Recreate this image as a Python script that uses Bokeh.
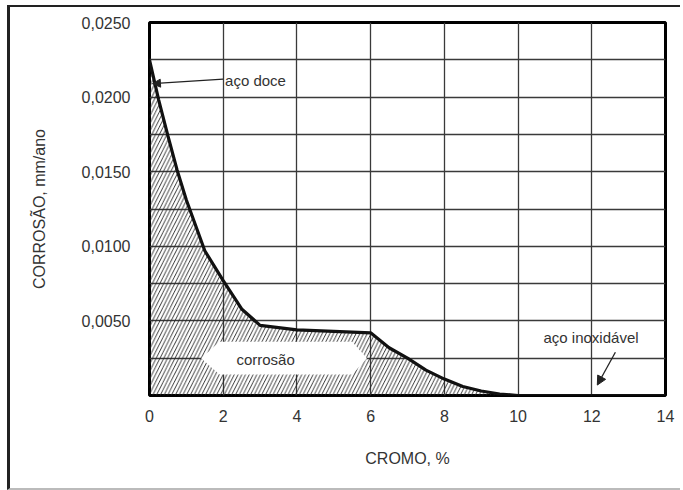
from bokeh.plotting import figure
from bokeh.models import FixedTicker, CustomJSTickFormatter, Arrow, NormalHead, Label
from bokeh.core.properties import value
from bokeh.embed import file_html
from bokeh.resources import INLINE

# data
cromo = [0, 0.25, 0.5, 0.75, 1.0, 1.5, 2.0, 2.5, 3.0, 4.0, 5.0, 6.0, 6.5, 7.0, 7.5, 8.0, 8.5, 9.0, 9.5, 10.0, 12.0, 14.0]
corrosao = [0.0225, 0.0198, 0.0174, 0.0151, 0.0131, 0.0097, 0.0077, 0.0058, 0.0047, 0.0044, 0.0043, 0.0042,
            0.0032, 0.0025, 0.0017, 0.0011, 0.0006, 0.0003, 0.0001, 0.0, 0.0, 0.0]
x_ticks = [0, 2, 4, 6, 8, 10, 12, 14]
y_ticks = [0.005, 0.010, 0.015, 0.020, 0.025]
y_grid = [0.0025, 0.005, 0.0075, 0.010, 0.0125, 0.015, 0.0175, 0.020, 0.0225, 0.025]

# annotation positions (data units)
label_box_x = [1.4, 1.9, 5.5, 5.9, 5.5, 1.9]
label_box_y = [0.0025, 0.0036, 0.0036, 0.0025, 0.0014, 0.0014]
corr_label = (3.15, 0.0024)
doce_label = (2.05, 0.0211)
doce_arrow = (2.0, 0.0212, 0.08, 0.0209)
inox_label = (10.69, 0.0039)
inox_arrow = (12.64, 0.0029, 12.15, 0.0007)

FONT = "Liberation Sans"
TXT = "#333333"

p = figure(width=673, height=485, x_range=(0, 14), y_range=(0, 0.025),
           output_backend="svg", toolbar_location=None,
           min_border_left=139, min_border_right=18, min_border_top=15, min_border_bottom=97)
p.styles = {"margin-left": "7px", "margin-top": "5px",
            "border-top": "2px solid #222", "border-left": "3px solid #222",
            "border-bottom": "2px solid #bbb"}

p.outline_line_color = "black"
p.outline_line_width = 3
p.background_fill_color = "white"

p.xgrid.ticker = FixedTicker(ticks=x_ticks)
p.ygrid.ticker = FixedTicker(ticks=y_grid)
for g in (p.xgrid, p.ygrid):
    g.grid_line_color = "#3a3a3a"
    g.grid_line_width = 1.3
    g.grid_line_alpha = 1.0

for ax in (p.xaxis, p.yaxis):
    ax.axis_line_color = None
    ax.major_tick_line_color = None
    ax.minor_tick_line_color = None
    ax.major_label_text_font = FONT
    ax.major_label_text_font_size = "16px"
    ax.major_label_text_color = TXT
    ax.axis_label_text_font = FONT
    ax.axis_label_text_font_size = "16px"
    ax.axis_label_text_font_style = "normal"
    ax.axis_label_text_color = TXT

p.xaxis.ticker = FixedTicker(ticks=x_ticks)
p.yaxis.ticker = FixedTicker(ticks=y_ticks)
p.yaxis.formatter = CustomJSTickFormatter(code="return tick.toFixed(4).replace('.', ',');")
p.xaxis.major_label_standoff = 8
p.yaxis.major_label_standoff = 13
p.xaxis.axis_label = "CROMO, %"
p.yaxis.axis_label = "CORROSÃO, mm/ano"
p.xaxis.axis_label_standoff = 25
p.yaxis.axis_label_standoff = 31

# hatched area under the curve
p.varea(x=cromo, y1=0, y2=corrosao, fill_color="white", fill_alpha=0,
        hatch_pattern="right_diagonal_line", hatch_color="#222222", hatch_scale=7.5, hatch_weight=0.9)

# white label field
p.patch(label_box_x, label_box_y, fill_color="white", line_color=None)
p.text(x=[corr_label[0]], y=[corr_label[1]], text=["corrosão"], text_font=value(FONT),
       text_font_size="15px", text_color=TXT, text_align="center", text_baseline="middle")

# curve
p.line(cromo, corrosao, line_color="#111111", line_width=3.2)

# annotations
p.add_layout(Label(x=doce_label[0], y=doce_label[1], text="aço doce", text_font=FONT,
                   text_font_size="15px", text_color=TXT, text_baseline="middle"))
p.add_layout(Arrow(x_start=doce_arrow[0], y_start=doce_arrow[1], x_end=doce_arrow[2], y_end=doce_arrow[3],
                   line_color="#222", line_width=1.3,
                   end=NormalHead(size=8, fill_color="#222", line_color="#222")))
p.add_layout(Label(x=inox_label[0], y=inox_label[1], text="aço inoxidável", text_font=FONT,
                   text_font_size="15px", text_color=TXT, text_baseline="middle"))
p.add_layout(Arrow(x_start=inox_arrow[0], y_start=inox_arrow[1], x_end=inox_arrow[2], y_end=inox_arrow[3],
                   line_color="#222", line_width=1.3,
                   end=NormalHead(size=9, fill_color="#222", line_color="#222")))

open("out.html", "w").write(file_html(p, INLINE))
